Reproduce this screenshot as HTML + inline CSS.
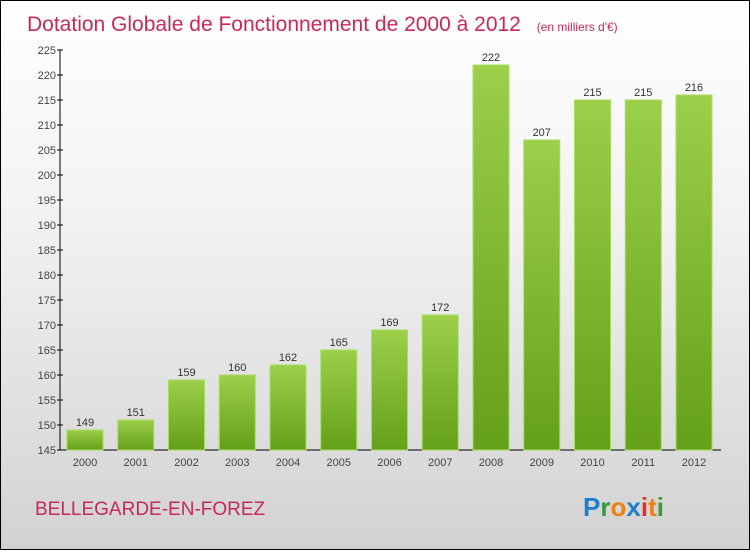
<!DOCTYPE html>
<html><head><meta charset="utf-8"><style>
html,body{margin:0;padding:0;}
body{width:750px;height:550px;overflow:hidden;font-family:"Liberation Sans",sans-serif;}
#wrap{position:relative;width:748px;height:548px;border:1px solid #000;background:linear-gradient(#ffffff 0%,#f2f2f2 40%,#d2d2d2 100%);}
svg text{font-family:"Liberation Sans",sans-serif;}
</style></head><body>
<div id="wrap">
<svg id="chart" width="748" height="548">
<defs><linearGradient id="bg" x1="0" y1="0" x2="0" y2="1"><stop offset="0" stop-color="#9ccf4a"/><stop offset="1" stop-color="#64a018"/></linearGradient></defs>
<text x="26" y="30" font-size="21" fill="#c8285a">Dotation Globale de Fonctionnement de 2000 à 2012 <tspan font-size="12" dx="10">(en milliers d'€)</tspan></text>
<text x="34" y="514" font-size="19" fill="#c8285a">BELLEGARDE-EN-FOREZ</text>
<g font-size="26" font-weight="bold">
<text x="582" y="515"><tspan fill="#1e7fd0">P</tspan><tspan fill="#3a9a3a">r</tspan><tspan fill="#f08010">o</tspan><tspan fill="#1e7fd0">x</tspan><tspan fill="#e03020">i</tspan><tspan fill="#f08010">t</tspan><tspan fill="#3a9a3a">i</tspan></text>
</g>
<g id="axes"></g><g id="bars"></g>
</svg></div>
<script>
const years=["2000","2001","2002","2003","2004","2005","2006","2007","2008","2009","2010","2011","2012"];
const values=[149,151,159,160,162,165,169,172,222,207,215,215,216];
const yTicks=[145,150,155,160,165,170,175,180,185,190,195,200,205,210,215,220,225];
const ns="http://www.w3.org/2000/svg";
const yMin=145,yMax=225,yTop=49,yBot=449,x0=59,x1=720;
function y(v){return yBot-(v-yMin)/(yMax-yMin)*(yBot-yTop);}
const step=50.75,first=84;
function xc(i){return first+i*step;}
const axes=document.getElementById('axes'),bars=document.getElementById('bars');
function mk(t,a,p){const e=document.createElementNS(ns,t);for(const k in a)e.setAttribute(k,a[k]);p.appendChild(e);return e;}
let l=mk('line',{x1:x0,y1:yTop,x2:x0,y2:yBot,stroke:'#000'},axes);


l=mk('line',{x1:x0,y1:yBot,x2:x1,y2:yBot,stroke:'#000'},axes);


yTicks.forEach(v=>{
 const t=mk('line',{x1:x0-3,y1:y(v),x2:x0+3,y2:y(v),stroke:'#000'},axes);
 
 
 const tx=mk('text',{x:x0-4,y:y(v)+4,'font-size':11,fill:'#444','text-anchor':'end'},axes);
 tx.textContent=v;
 
 
});
values.forEach((v,i)=>{
 const r=mk('rect',{x:xc(i)-18,y:y(v),width:36,height:yBot-y(v),fill:'url(#bg)',stroke:'#a8dc60','stroke-width':1},bars);
 
 
 const lb=mk('text',{x:xc(i),y:y(v)-4,'font-size':11,fill:'#333','text-anchor':'middle'},bars);
 lb.textContent=v;
 
 
 const xl=mk('text',{x:xc(i),y:yBot+16,'font-size':11,fill:'#444','text-anchor':'middle'},bars);
 xl.textContent=years[i];
 
 
});
</script>
</body></html>
